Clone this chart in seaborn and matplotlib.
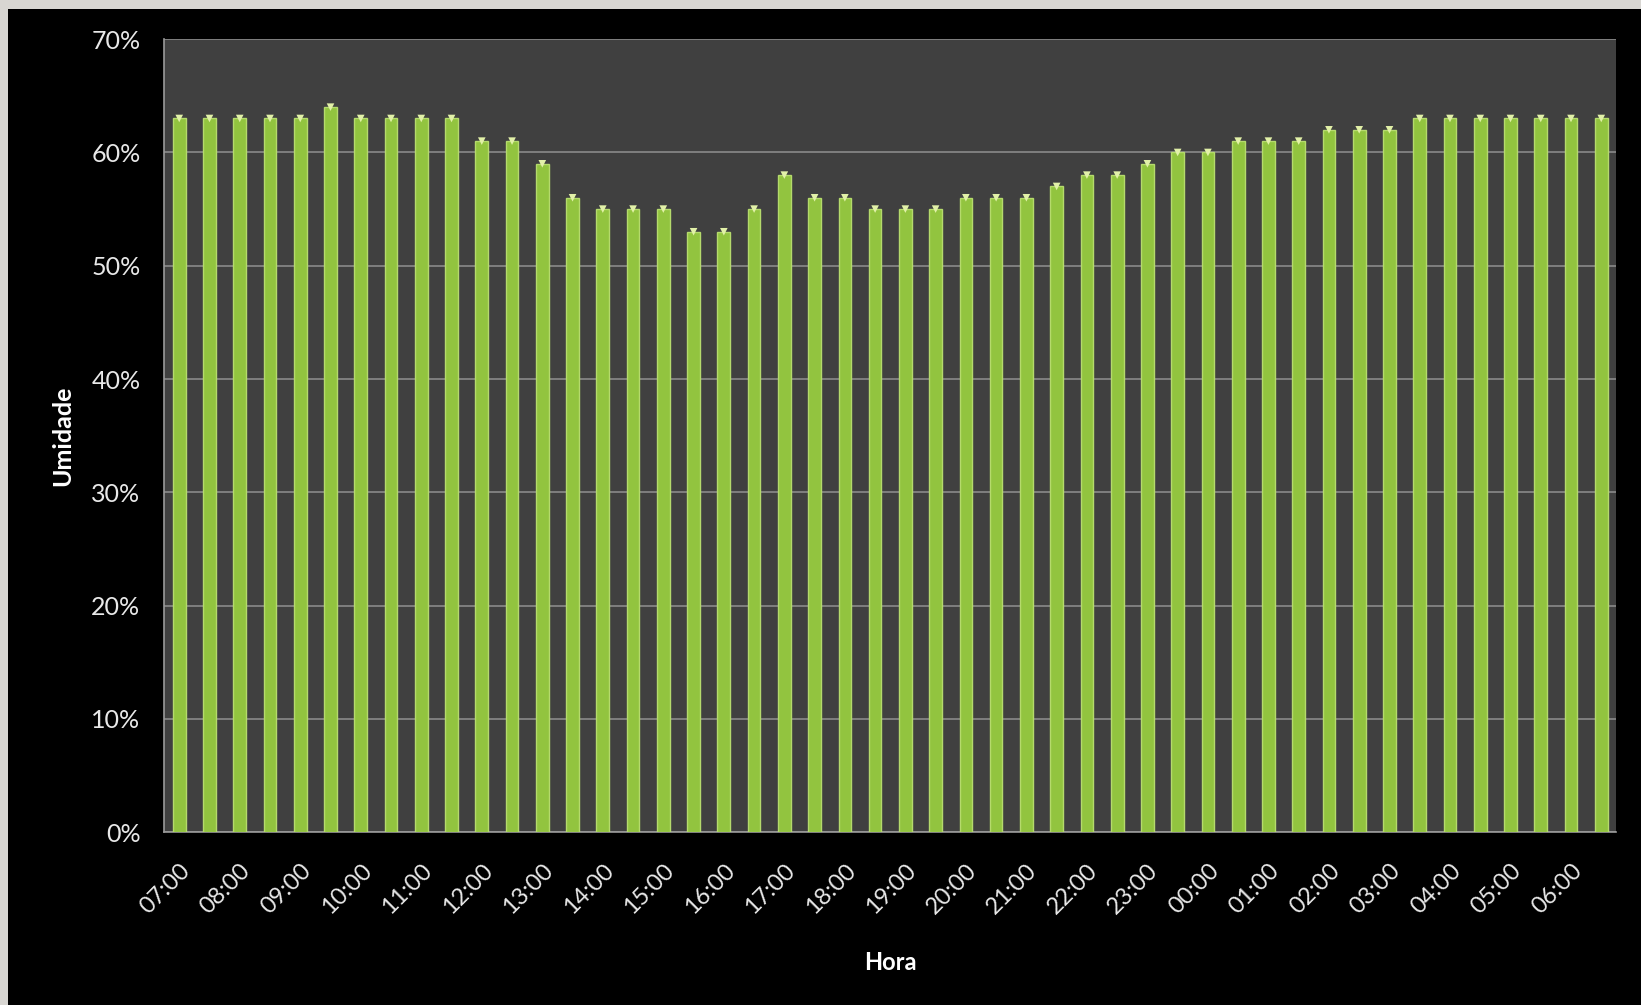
"""Umidade por hora - grafico de barras."""

import matplotlib

matplotlib.use("Agg")
import matplotlib.pyplot as plt
import pandas as pd
import seaborn as sns
from matplotlib.patches import Rectangle
from matplotlib.ticker import FuncFormatter, MultipleLocator

# Half-hourly readings from 07:00 to 06:30
horas = [f"{(7 + i // 2) % 24:02d}:{'00' if i % 2 == 0 else '30'}" for i in range(48)]
umidade = [
    63, 63, 63, 63, 63, 64, 63, 63, 63, 63,
    61, 61, 59, 56, 55, 55, 55, 53, 53, 55,
    58, 56, 56, 55, 55, 55, 56, 56, 56, 57,
    58, 58, 59, 60, 60, 61, 61, 61, 62, 62,
    62, 63, 63, 63, 63, 63, 63, 63,
]
rotulos = [h for h in horas if h.endswith(":00")]

df = pd.DataFrame({"hora": horas, "umidade": umidade})

sns.set_style("dark")
plt.rcParams["font.family"] = ["Lato", "DejaVu Sans"]

fig = plt.figure(figsize=(16.41, 10.05), dpi=100, facecolor="#d8d6d2")
# black slide background, leaving a thin light border top/left
fig.patches.append(
    Rectangle((0.005, 0.0), 0.995, 0.9915, transform=fig.transFigure,
              facecolor="black", edgecolor="none", zorder=-10)
)
ax = fig.add_axes([0.1, 0.172, 0.885, 0.789])
ax.set_zorder(1)
ax.set_facecolor("#404040")

sns.barplot(
    data=df, x="hora", y="umidade", ax=ax,
    color="#92c43f", width=0.42, saturation=1,
    edgecolor="#b5da6c", linewidth=1.0, zorder=3,
)
# light caps on the bar tops
ax.scatter(range(len(horas)), df["umidade"], marker="v", s=30,
           color="#e2f1a8", edgecolors="none", zorder=4)

ax.set_ylim(0, 70)
ax.set_xlim(-0.5, len(horas) - 0.5)
ax.yaxis.set_major_locator(MultipleLocator(10))
ax.yaxis.set_major_formatter(FuncFormatter(lambda v, _: f"{v:.0f}%"))
ax.grid(True, axis="y", color="#8a8a8a", linewidth=1.2, zorder=1)
ax.grid(False, axis="x")

ax.set_xticks(range(0, len(horas), 2))
ax.set_xticklabels(rotulos, rotation=45, ha="right", rotation_mode="anchor")
ax.set_xticks([i - 0.5 for i in range(len(horas) + 1)], minor=True)
ax.tick_params(axis="x", which="major", length=0, pad=20,
               labelcolor="#e8e8e8", labelsize=17)
ax.tick_params(axis="x", which="minor", length=7, color="#9a9a9a",
               width=1, direction="out")
ax.tick_params(axis="y", length=7, color="#9a9a9a", width=1, direction="out",
               labelcolor="#e8e8e8", labelsize=18, pad=10)

for side in ["top", "right"]:
    ax.spines[side].set_visible(False)
for side in ["left", "bottom"]:
    ax.spines[side].set_visible(True)
    ax.spines[side].set_color("#9a9a9a")
    ax.spines[side].set_linewidth(1.2)

ax.set_xlabel("Hora", fontsize=17, fontweight="bold", color="white", labelpad=24)
ax.set_ylabel("Umidade", fontsize=18, fontweight="bold", color="white", labelpad=12)

fig.savefig("out.png", dpi=100, facecolor=fig.get_facecolor())
